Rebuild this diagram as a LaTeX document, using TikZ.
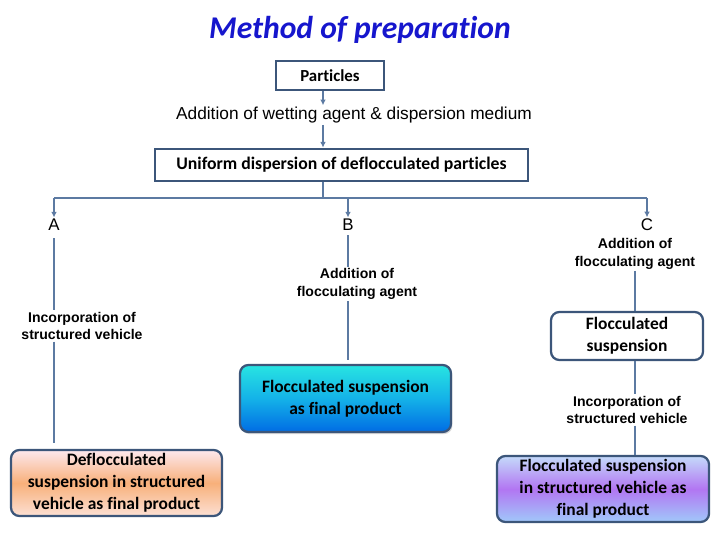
\documentclass[tikz,border=0pt]{standalone}
\usepackage{fontspec}
\setmainfont{Carlito}[Ligatures=NoCommon]
\newfontfamily\arialfont{Liberation Sans}
\usetikzlibrary{shadows, positioning, arrows.meta, calc}

\definecolor{edgeblue}{RGB}{60,86,122}
\definecolor{wireblue}{RGB}{92,122,162}
\definecolor{titleblue}{RGB}{22,22,205}
\definecolor{peachtop}{RGB}{253,232,238}
\definecolor{peachmid}{RGB}{248,176,122}
\definecolor{peachbot}{RGB}{252,224,212}
\definecolor{aquatop}{RGB}{40,228,226}
\definecolor{aquamid}{RGB}{20,178,232}
\definecolor{aquabot}{RGB}{0,108,228}
\definecolor{liltop}{RGB}{196,218,250}
\definecolor{lilmid}{RGB}{178,118,242}
\definecolor{lilbot}{RGB}{160,200,250}

\begin{document}
\begin{tikzpicture}[
        x=0.025cm, y=-0.025cm,
        % --- STYLES ---
        stepbox/.style={
                draw=edgeblue,
                line width=2pt,
                fill=white,
                align=center,
                inner sep=2pt,
                font=\bfseries\fontsize{12.6}{15}\selectfont
            },
        endbox/.style={
                draw=edgeblue,
                line width=1.6pt,
                rounded corners=6pt,
                align=center,
                inner sep=2pt,
                font=\bfseries\fontsize{12.4}{15.6}\selectfont
            },
        note/.style={
                align=center,
                inner sep=1pt,
                font=\arialfont\bfseries\fontsize{10}{12.4}\selectfont
            },
        branch/.style={
                inner sep=1pt,
                font=\arialfont\fontsize{12}{14}\selectfont
            },
        wire/.style={
                draw=wireblue,
                line width=0.9pt
            },
        feed/.style={
                wire,
                -{Latex[length=4pt, width=4pt]}
            }
    ]

    \useasboundingbox (0,0) rectangle (720,540);

    % 1. Title
    \node[font=\bfseries\itshape\fontsize{22.5}{26}\selectfont, text=titleblue] (title) at (360,30) {Method of preparation};

    % 2. Common trunk
    \node[stepbox, font=\bfseries\fontsize{12}{15}\selectfont,
        minimum width=2.7cm, minimum height=0.725cm] (particles) at (330,75.5) {Particles};
    \node[font=\arialfont\fontsize{12.3}{14}\selectfont, inner sep=1pt] (wetting) at (354,115) {Addition of wetting agent \& dispersion medium};
    \node[stepbox, minimum width=9.325cm, minimum height=0.8cm] (uniform) at (341.5,165) {Uniform dispersion of deflocculated particles};
    \coordinate (split) at (323,198);

    \draw[feed] (split |- particles.south) -- (split |- wetting.north);
    \draw[feed] (split |- wetting.south) -- (split |- uniform.north);

    % 3. Branches A, B, C
    \node[branch] (A) at (54,225) {A};
    \node[branch] (B) at (348,225) {B};
    \node[branch] (C) at (647,225) {C};

    \draw[wire] (split |- uniform.south) -- (split);
    \draw[wire] (A |- split) -- (C |- split);
    \foreach \br in {A, B, C}
    \draw[feed] (\br |- split) -- (\br);

    % 4. Route A (deflocculated)
    \node[note] (incA) at (82,326) {Incorporation of\\structured vehicle};
    \node[endbox, top color=peachtop, bottom color=peachbot, middle color=peachmid,
        minimum width=5.275cm, minimum height=1.65cm] (deflend) at (116.5,483)
    {Deflocculated\\suspension in structured\\vehicle as final product};

    \draw[wire, shorten <=4pt] (A) -- (A |- incA.north);
    \draw[wire, shorten >=4pt] (A |- incA.south) -- (A |- deflend.north);

    % 5. Route B (flocculated)
    \node[note] (addB) at (357,284) {Addition of\\flocculating agent};
    \node[endbox, top color=aquatop, bottom color=aquabot, middle color=aquamid,
        drop shadow={opacity=0.3, shadow xshift=1pt, shadow yshift=-1.5pt},
        minimum width=5.275cm, minimum height=1.675cm] (flocend) at (345.5,398.5)
    {Flocculated suspension\\as final product};

    \draw[wire, shorten <=2pt] (B) -- (B |- addB.north);
    \draw[wire, shorten >=3pt] (B |- addB.south) -- (B |- flocend.north);

    % 6. Route C (flocculated in structured vehicle)
    \node[note] (addC) at (635,254) {Addition of\\flocculating agent};
    \node[endbox, fill=white, minimum width=3.8cm, minimum height=1.2cm] (flocC) at (627,336) {Flocculated\\suspension};
    \node[note] (incC) at (627,410) {Incorporation of\\structured vehicle};
    \node[endbox, top color=liltop, bottom color=lilbot, middle color=lilmid,
        minimum width=5.3cm, minimum height=1.65cm] (structend) at (603,489)
    {Flocculated suspension\\in structured vehicle as\\final product};

    \draw[wire] (addC.south) -- (addC.south |- flocC.north);
    \draw[wire] (addC.south |- flocC.south) -- (addC.south |- incC.north);
    \draw[wire] (addC.south |- incC.south) -- (addC.south |- structend.north);

\end{tikzpicture}
\end{document}
